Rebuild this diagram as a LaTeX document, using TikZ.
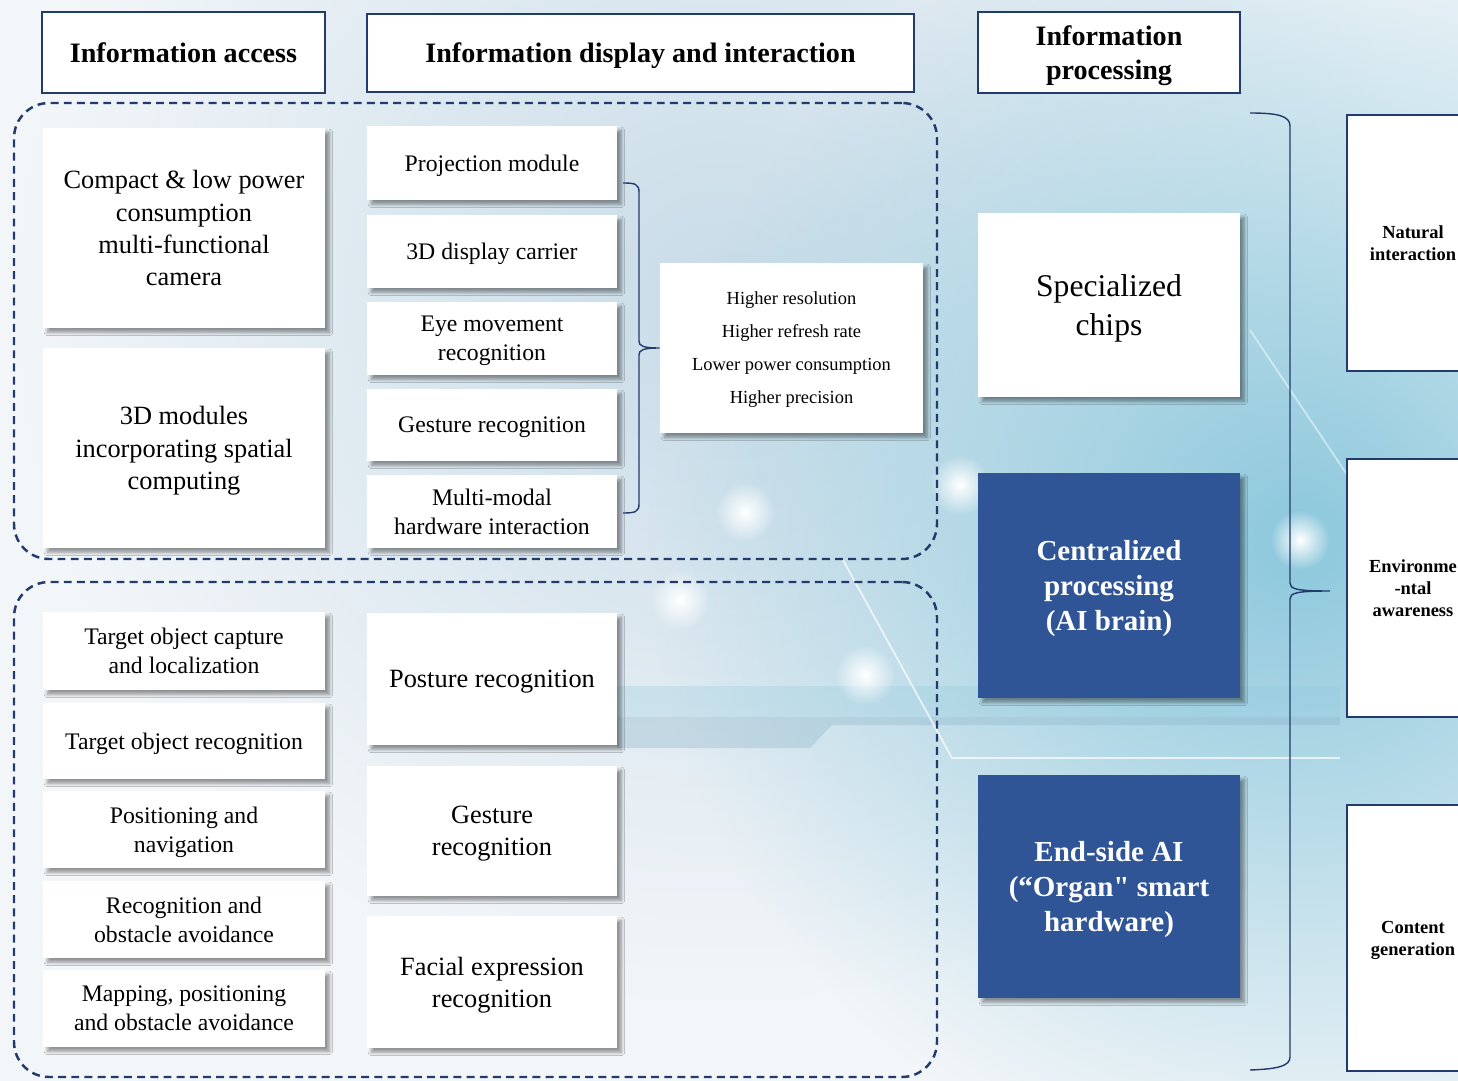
\documentclass[tikz,border=0pt]{standalone}
\usepackage{fontspec}
\setmainfont{Liberation Serif}[Ligatures=TeXOff]
\usetikzlibrary{shadows.blur,fadings}
\definecolor{navy}{RGB}{35,58,108}
\definecolor{deepblue}{RGB}{47,85,151}
\definecolor{bgpale}{RGB}{243,246,249}
\definecolor{bgcyan}{RGB}{140,200,220}
\definecolor{bgmist}{RGB}{200,220,232}
\definecolor{bgsteel}{RGB}{140,180,200}
\tikzfading[name=glow, inner color=transparent!0, outer color=transparent!100]
\tikzset{
  area/.style n args={4}{minimum width={(#3-#1)*0.02cm}, minimum height={(#4-#2)*0.02cm},
    at={({(#1+#3)/2},{(#2+#4)/2})}},
  card/.style={fill=white, inner sep=0pt, align=center, text depth=0pt,
    blur shadow={shadow xshift=2.5pt, shadow yshift=-2.5pt, shadow blur steps=6, shadow opacity=40}},
  hdr/.style={draw=navy, line width=1.3pt, fill=white, inner sep=0pt, align=center, text depth=0pt,
    font=\bfseries\fontsize{16}{19.3}\selectfont},
  bluecard/.style={card, fill=deepblue, text=white, font=\bfseries\fontsize{16.5}{20}\selectfont},
  sidebox/.style={draw=navy, line width=1.3pt, fill=white, inner sep=0pt, align=center, text depth=0pt,
    font=\bfseries\fontsize{10.5}{12.6}\selectfont},
  zone/.style={draw=navy, line width=1.4pt, dash pattern=on 4.5pt off 3pt, rounded corners=20pt, inner sep=0pt},
  curly/.style={draw=navy, line width=0.8pt},
  sparkle/.style={fill=white, path fading=glow},
  txtL/.style={font=\fontsize{15}{18.3}\selectfont},
  txtM/.style={font=\fontsize{13.5}{16.4}\selectfont},
  txtS/.style={font=\fontsize{10.5}{18.8}\selectfont},
}
\begin{document}
\begin{tikzpicture}[x=0.02cm, y=-0.02cm]
\clip (0,0) rectangle (1458,1081);
% backdrop
\fill[bgpale] (0,0) rectangle (1458,1081);
\fill[bgmist, path fading=glow] (720,300) circle (700);
\fill[bgcyan, path fading=glow] (1300,540) circle (650);
\fill[bgcyan, opacity=0.25] (617,686) rectangle (1340,717);
\fill[bgsteel, opacity=0.35] (617,717) -- (1340,717) -- (1340,725) -- (832,725) -- (810,748) -- (617,748) -- cycle;
\draw[white, opacity=0.7, line width=1pt] (843,560) -- (952,758) -- (1340,758);
\draw[white, opacity=0.5, line width=1pt] (1250,330) -- (1458,640);
\foreach \gx/\gy in {745/512, 960/485, 680/600, 865/675, 1300/540}
  \fill[sparkle] (\gx,\gy) circle (30);

% headers
\node[hdr, area={42}{12}{325}{93}] (hacc) {Information access};
\node[hdr, area={367}{14}{914}{92}] (hdisp) {Information display and interaction};
\node[hdr, area={978}{12}{1240}{93}] (hproc) {Information\\processing};

\node[zone, area={14}{103}{937}{559}] (upzone) {};
\node[zone, area={14}{582}{937}{1077}] (lowzone) {};

% upper group
\node[card, txtL, area={43}{128}{325}{328}] (cam) {Compact \& low power\\consumption\\multi-functional\\camera};
\node[card, txtL, area={43}{348}{325}{548}] (spatial) {3D modules\\incorporating spatial\\computing};
\node[card, txtM, area={367}{126}{617}{200}] (proj) {Projection module};
\node[card, txtM, area={367}{215}{617}{288}] (carrier) {3D display carrier};
\node[card, txtM, area={367}{302}{617}{375}] (eye) {Eye movement\\recognition};
\node[card, txtM, area={367}{389}{617}{461}] (gest) {Gesture recognition};
\node[card, txtM, area={367}{475}{617}{548}] (multi) {Multi-modal\\hardware interaction};
\node[card, txtS, area={660}{263}{923}{433}] (traits) {Higher resolution\\Higher refresh rate\\Lower power consumption\\Higher precision};

\coordinate (br1) at (623,183);
\coordinate (br2) at (623,513);
\draw[curly] (br1) .. controls (635,183) and (639,184) .. (639,192) -- (639,341)
  .. controls (639,346) and (643,348) .. (traits.west) .. controls (643,348) and (639,350) .. (639,355)
  -- (639,504) .. controls (639,512) and (635,513) .. (br2);

% lower group
\node[card, txtM, area={43}{612}{325}{690}] (capture) {Target object capture\\and localization};
\node[card, txtM, area={43}{703}{325}{779}] (objrec) {Target object recognition};
\node[card, txtM, area={43}{791}{325}{868}] (nav) {Positioning and\\navigation};
\node[card, txtM, area={43}{881}{325}{958}] (avoid) {Recognition and\\obstacle avoidance};
\node[card, txtM, area={43}{970}{325}{1047}] (mapping) {Mapping, positioning\\and obstacle avoidance};
\node[card, txtL, area={367}{613}{617}{745}] (posture) {Posture recognition};
\node[card, txtL, area={367}{766}{617}{896}] (gest2) {Gesture\\recognition};
\node[card, txtL, area={367}{916}{617}{1048}] (face) {Facial expression\\recognition};

% processing
\node[card, font=\fontsize{18}{22}\selectfont, area={978}{213}{1240}{397}] (chips) {Specialized\\chips};
\node[bluecard, area={978}{473}{1240}{698}] (brain) {Centralized\\processing\\(AI brain)};
\node[bluecard, area={978}{775}{1240}{998}] (edge) {End-side AI\\(“Organ" smart\\hardware)};

\node[sidebox, area={1347}{115}{1479}{371}] (natural) {Natural\\interaction};
\node[sidebox, area={1347}{459}{1479}{717}] (aware) {Environme\\-ntal\\awareness};
\node[sidebox, area={1347}{805}{1479}{1071}] (content) {Content\\generation};

\coordinate (bb1) at (1250,113);
\coordinate (bb2) at (1250,1070);
\coordinate (bbtip) at (1330,591);
\draw[curly] (bb1) .. controls (1278,113) and (1290,116) .. (1290,126) -- (1290,583)
  .. controls (1290,589) and (1296,591) .. (bbtip) .. controls (1296,591) and (1290,593) .. (1290,599)
  -- (1290,1057) .. controls (1290,1066) and (1278,1069) .. (bb2);
\end{tikzpicture}
\end{document}
